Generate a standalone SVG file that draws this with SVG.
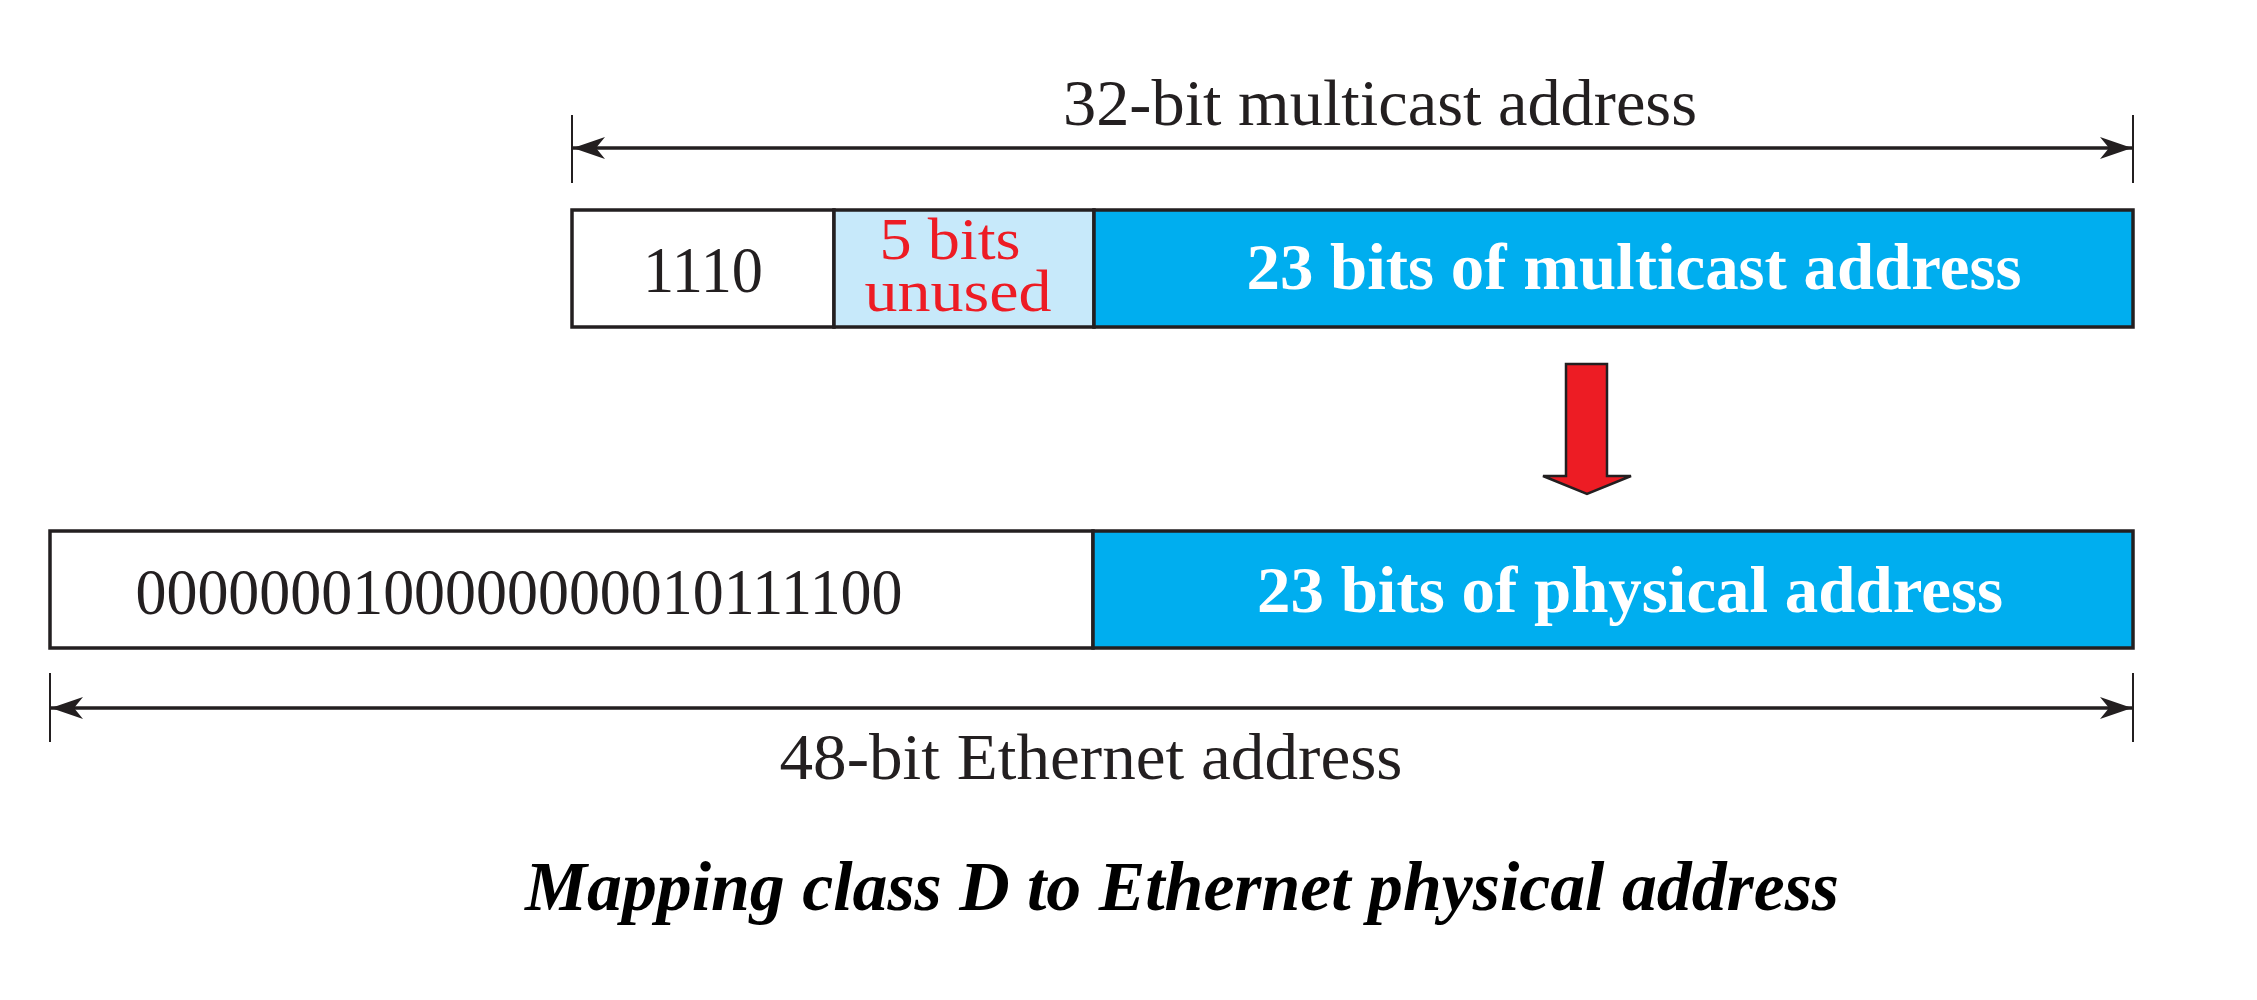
<svg xmlns="http://www.w3.org/2000/svg" width="2257" height="1000" viewBox="0 0 2257 1000">
<style>
.t{font-family:"Liberation Serif","Times New Roman",serif;font-size:66px;fill:#231f20}
.b{font-family:"Liberation Serif","Times New Roman",serif;font-size:66px;font-weight:bold;fill:#ffffff}
.r{font-family:"Liberation Serif","Times New Roman",serif;font-size:60px;fill:#ed1c24}
.cap{font-family:"Liberation Serif","Times New Roman",serif;font-size:70px;font-weight:bold;font-style:italic;fill:#000}
.box{stroke:#231f20;stroke-width:3.5}
.dim{stroke:#231f20;stroke-width:3.5;fill:none}
.tick{stroke:#231f20;stroke-width:2}
</style>
<defs>
<marker id="ah" viewBox="0 0 32 22" refX="32" refY="11" markerWidth="32" markerHeight="22" markerUnits="userSpaceOnUse" orient="auto-start-reverse">
<path d="M0,0 L32,11 L0,22 L9,11 Z" fill="#231f20"/>
</marker>
</defs>
<rect width="2257" height="1000" fill="#fff"/>
<g id="connectors">
<line class="tick" x1="572" y1="115" x2="572" y2="183"/>
<line class="tick" x1="2133" y1="115" x2="2133" y2="183"/>
<line class="dim" x1="573" y1="148" x2="2132" y2="148" marker-start="url(#ah)" marker-end="url(#ah)"/>
<line class="tick" x1="50" y1="673" x2="50" y2="742"/>
<line class="tick" x1="2133" y1="673" x2="2133" y2="742"/>
<line class="dim" x1="51" y1="708" x2="2132" y2="708" marker-start="url(#ah)" marker-end="url(#ah)"/>
<path id="red-arrow" d="M1566,364 L1607,364 L1607,476 L1631,476 L1587,494 L1543,476 L1566,476 Z" fill="#ed1c24" stroke="#231f20" stroke-width="2.5" stroke-linejoin="miter"/>
</g>
<g id="label-32">
<text class="t" x="1380" y="125" text-anchor="middle" textLength="634" lengthAdjust="spacingAndGlyphs">32-bit multicast address</text>
</g>
<g id="cell-1110">
<rect class="box" x="572" y="210" width="262" height="117" fill="#fff"/>
<text class="t" x="703" y="292" text-anchor="middle" textLength="120" lengthAdjust="spacingAndGlyphs">1110</text>
</g>
<g id="cell-unused">
<rect class="box" x="834" y="210" width="260" height="117" fill="#c7e9fa"/>
<text class="r" x="950" y="259" text-anchor="middle" textLength="141" lengthAdjust="spacingAndGlyphs">5 bits</text>
<text class="r" x="958" y="311" text-anchor="middle" textLength="187" lengthAdjust="spacingAndGlyphs">unused</text>
</g>
<g id="cell-multicast">
<rect class="box" x="1094" y="210" width="1039" height="117" fill="#00aeef"/>
<text class="b" x="1634" y="289" text-anchor="middle" textLength="775" lengthAdjust="spacingAndGlyphs">23 bits of multicast address</text>
</g>
<g id="cell-prefix">
<rect class="box" x="50" y="531" width="1043" height="117" fill="#fff"/>
<text class="t" x="519" y="614" text-anchor="middle" textLength="767" lengthAdjust="spacingAndGlyphs">0000000100000000010111100</text>
</g>
<g id="cell-physical">
<rect class="box" x="1093" y="531" width="1040" height="117" fill="#00aeef"/>
<text class="b" x="1630" y="612" text-anchor="middle" textLength="746" lengthAdjust="spacingAndGlyphs">23 bits of physical address</text>
</g>
<g id="label-48">
<text class="t" x="1091" y="779" text-anchor="middle" textLength="623" lengthAdjust="spacingAndGlyphs">48-bit Ethernet address</text>
</g>
<g id="caption">
<text class="cap" x="1182" y="910" text-anchor="middle" textLength="1314" lengthAdjust="spacingAndGlyphs">Mapping class D to Ethernet physical address</text>
</g>
</svg>
